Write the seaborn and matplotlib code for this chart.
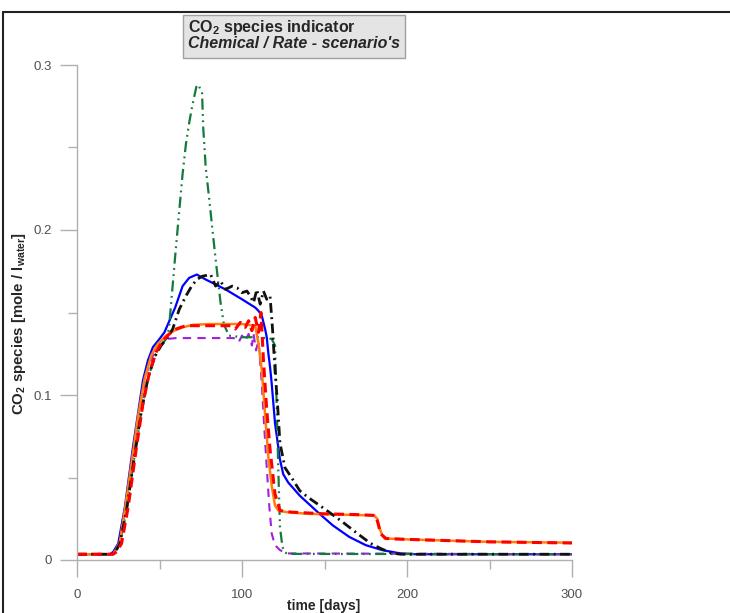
import numpy as np
import pandas as pd
import seaborn as sns
import matplotlib
matplotlib.use("Agg")
import matplotlib.pyplot as plt
from matplotlib.ticker import MultipleLocator, FuncFormatter
from matplotlib.patches import Rectangle
from matplotlib.lines import Line2D

# CO2 species [mole / l water] vs time [days], one pair of arrays per scenario
t_blue = [0, 20, 22, 25, 29, 34, 37, 40, 43, 46, 50, 53, 56, 59.5, 64, 68, 72.6, 78, 90, 100,
          108, 110, 112, 114, 115, 116, 117, 118, 120, 123, 125, 128, 135, 147, 155, 165,
          175, 185, 196, 205, 300]
v_blue = [0.0035, 0.0035, 0.005, 0.010, 0.032, 0.069, 0.089, 0.109, 0.121, 0.129, 0.134, 0.138,
          0.145, 0.153, 0.166, 0.171, 0.173, 0.170, 0.164, 0.158, 0.153, 0.151, 0.148, 0.140,
          0.135, 0.125, 0.117, 0.107, 0.083, 0.061, 0.052, 0.047, 0.039, 0.028, 0.021, 0.014,
          0.009, 0.006, 0.004, 0.0035, 0.0035]

t_orange = [0, 21, 23, 26, 29, 33, 37, 41, 45, 49, 54, 59, 64, 70, 80, 90, 100, 108, 110, 112,
            114, 116, 118, 120, 122, 127, 140, 160, 180, 182, 183.5, 185, 188, 200, 250, 300]
v_orange = [0.0035, 0.0035, 0.005, 0.011, 0.030, 0.058, 0.087, 0.110, 0.124, 0.131, 0.136,
            0.139, 0.141, 0.1425, 0.143, 0.143, 0.143, 0.142, 0.131, 0.115, 0.088, 0.062,
            0.045, 0.033, 0.030, 0.029, 0.028, 0.0275, 0.027, 0.025, 0.019, 0.015, 0.013,
            0.0125, 0.011, 0.0105]

t_red = [0, 22, 24, 27, 31, 36, 40, 44, 48, 52, 56, 60, 66, 75, 85, 93, 96, 99, 102, 104, 106,
         108, 110, 111.5, 113, 115, 117, 120, 123, 130, 150, 170, 181, 182.5, 184, 187, 200,
         250, 300]
v_red = [0.0035, 0.0035, 0.005, 0.010, 0.032, 0.068, 0.095, 0.114, 0.126, 0.133, 0.137, 0.140,
         0.142, 0.142, 0.142, 0.142, 0.140, 0.144, 0.141, 0.145, 0.139, 0.147, 0.138, 0.150,
         0.121, 0.091, 0.067, 0.040, 0.030, 0.029, 0.028, 0.0275, 0.027, 0.022, 0.016, 0.013,
         0.0125, 0.011, 0.0103]

t_purple = [0, 21, 23, 26, 29, 34, 38, 42, 46, 50, 55, 60, 95, 98, 100, 102, 104, 106, 107,
            108.5, 110, 112, 113.5, 115, 116.5, 118, 120, 123, 127, 300]
v_purple = [0.0035, 0.0035, 0.005, 0.011, 0.030, 0.066, 0.093, 0.113, 0.124, 0.130, 0.134,
            0.1345, 0.1345, 0.132, 0.136, 0.133, 0.137, 0.130, 0.137, 0.127, 0.133, 0.107,
            0.080, 0.056, 0.033, 0.016, 0.009, 0.006, 0.004, 0.0035]

t_black = [0, 21, 23, 26, 30, 35, 39, 43, 47, 51, 55, 58, 62, 66, 69.5, 72.6, 76, 81, 84, 87,
           90, 94, 97, 100, 103, 105, 107, 109, 111, 113, 115, 117, 118.5, 120, 121.5, 123,
           126, 130, 135, 140, 150, 161, 170, 178, 184, 190, 196, 300]
v_black = [0.0035, 0.0035, 0.0045, 0.010, 0.030, 0.064, 0.090, 0.110, 0.123, 0.130, 0.135,
           0.140, 0.152, 0.160, 0.166, 0.170, 0.172, 0.173, 0.166, 0.169, 0.164, 0.166, 0.165,
           0.162, 0.163, 0.160, 0.156, 0.164, 0.155, 0.163, 0.158, 0.160, 0.140, 0.115, 0.095,
           0.071, 0.056, 0.050, 0.042, 0.038, 0.031, 0.023, 0.016, 0.010, 0.007, 0.0045,
           0.0035, 0.0035]

t_green = [0, 21, 23, 26, 30, 35, 39, 43, 47, 51, 54, 55.7, 57, 59.4, 62, 64, 66, 68, 70, 72.6,
           74, 75.8, 76.5, 78, 80, 83.6, 87, 89, 92, 100, 110, 118, 120, 121, 122, 123, 124.5,
           126, 128, 300]
v_green = [0.0035, 0.0035, 0.0045, 0.010, 0.030, 0.064, 0.090, 0.110, 0.123, 0.130, 0.134,
           0.140, 0.155, 0.183, 0.212, 0.234, 0.252, 0.265, 0.276, 0.288, 0.287, 0.283, 0.262,
           0.238, 0.220, 0.186, 0.156, 0.143, 0.136, 0.135, 0.135, 0.134, 0.130, 0.095, 0.055,
           0.020, 0.008, 0.0045, 0.0037, 0.0035]

x_ticks = [0, 100, 200, 300]
y_ticks = [0, 0.1, 0.2, 0.3]

sns.set_style("white")
plt.rcParams['font.family'] = ['Liberation Sans', 'DejaVu Sans']
plt.rcParams['mathtext.fontset'] = 'custom'
plt.rcParams['mathtext.rm'] = 'Liberation Sans'
plt.rcParams['mathtext.bf'] = 'Liberation Sans:bold'
plt.rcParams['mathtext.it'] = 'Liberation Sans:italic'

fig = plt.figure(figsize=(7.3, 6.13), dpi=100)
ax = fig.add_axes([77 / 730, 1 - 560 / 613, 495 / 730, 495 / 613])

# (x, y, colour, width, dash) -- drawn bottom to top
series = [
    (t_blue, v_blue, "#0000ff", 1.6, "-"),
    (t_purple, v_purple, "#a020e0", 1.5, (0, (4, 3))),
    (t_green, v_green, "#137a3c", 1.6, (0, (5, 2, 0.8, 2, 0.8, 2))),
    (t_orange, v_orange, "#ff7f0e", 1.8, "-"),
    (t_black, v_black, "#111111", 2.0, (0, (3.5, 1.6, 0.7, 1.6))),
    (t_red, v_red, "#ff0000", 2.2, (0, (3.2, 1.8))),
]
for tx, vy, col, lw, ls in series:
    sns.lineplot(x=tx, y=vy, color=col, linewidth=lw, linestyle=ls,
                 estimator=None, sort=False, ax=ax)

ax.set_xlim(0, 300)
ax.set_ylim(0, 0.3)
ax.set_xticks(x_ticks)
ax.set_yticks(y_ticks)
ax.xaxis.set_minor_locator(MultipleLocator(50))
ax.yaxis.set_minor_locator(MultipleLocator(0.05))
ax.yaxis.set_major_formatter(FuncFormatter(lambda v, p: f"{v:g}"))

for s in ["top", "right"]:
    ax.spines[s].set_visible(False)
for s in ["left", "bottom"]:
    ax.spines[s].set_color("#b0b0b0")
    ax.spines[s].set_linewidth(1)

# seaborn's white style switches ticks off, turn them back on
ax.tick_params(which="both", bottom=True, left=True, top=False, right=False)
ax.tick_params(which="major", direction="out", length=12, width=1, color="#b0b0b0",
               labelcolor="#505050", labelsize=9.5)
ax.tick_params(which="minor", direction="out", length=6.5, width=1, color="#b0b0b0")
ax.tick_params(axis="x", which="major", pad=9)
ax.tick_params(axis="y", which="major", pad=6)
ax.set_xlabel("")
ax.set_ylabel("")

fig.text(324 / 730, 1 - 606 / 613, "time [days]", ha="center", va="center",
         fontsize=10, fontweight="bold")
fig.text(19 / 730, 1 - 323 / 613, r"CO$_\mathbf{2}$ species [mole / l$_\mathbf{water}$]",
         rotation=90, ha="center", va="center", fontsize=10.8, fontweight="bold")

# title box
fig.patches.append(Rectangle((183 / 730, 1 - 58 / 613), 222 / 730, 43 / 613,
                             transform=fig.transFigure, facecolor="#e4e4e4",
                             edgecolor="#a0a0a0", linewidth=1))
fig.text(188 / 730, 1 - 32 / 613, r"CO$_\mathbf{2}$ species indicator", ha="left",
         va="baseline", fontsize=11.5, fontweight="bold")
fig.text(188 / 730, 1 - 48 / 613, "Chemical / Rate - scenario's", ha="left",
         va="baseline", fontsize=11.5, fontweight="bold", fontstyle="italic")

# page frame
fig.lines.append(Line2D([3 / 730, 1], [1 - 12 / 613, 1 - 12 / 613], transform=fig.transFigure,
                        color="#222222", linewidth=1.5))
fig.lines.append(Line2D([3 / 730, 3 / 730], [0, 1 - 12 / 613], transform=fig.transFigure,
                        color="#222222", linewidth=1.5))

fig.savefig("out.png", dpi=100)
